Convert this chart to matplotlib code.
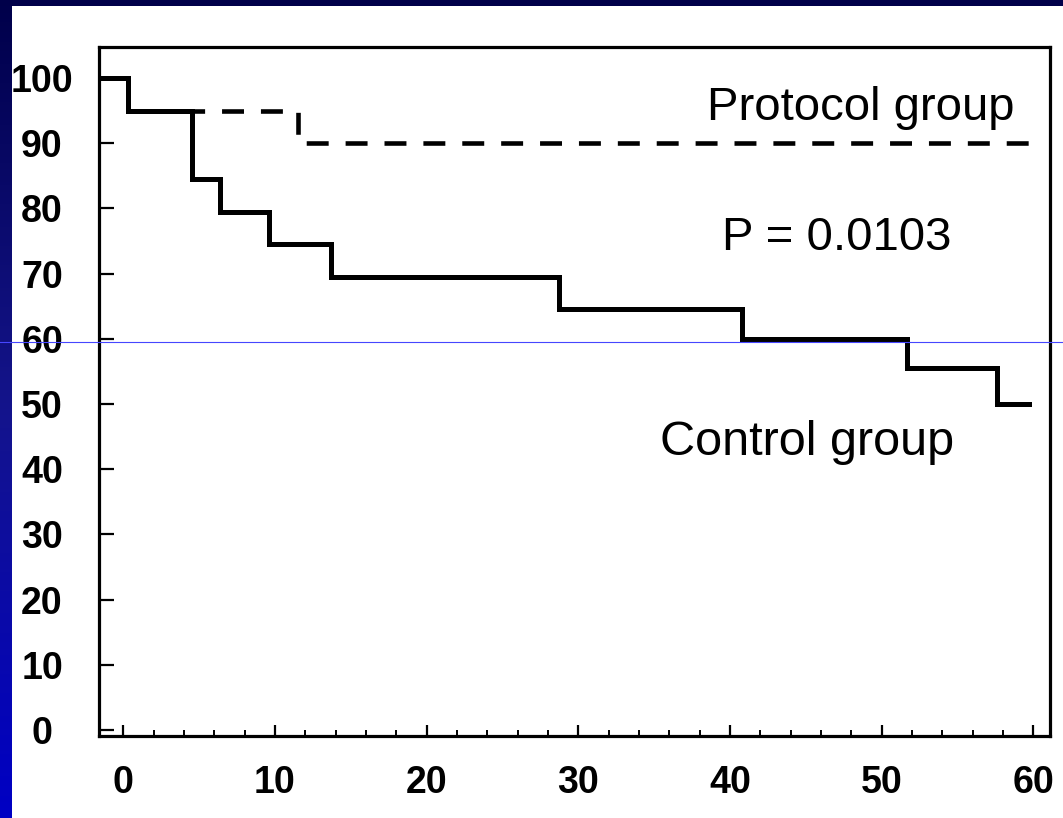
import numpy as np
import matplotlib
matplotlib.use("Agg")
import matplotlib.pyplot as plt
from matplotlib.lines import Line2D
from matplotlib.patches import Rectangle
from matplotlib.colors import LinearSegmentedColormap
from matplotlib.ticker import MultipleLocator

plt.rcParams['font.family'] = ['Liberation Sans', 'DejaVu Sans']
plt.rcParams['lines.scale_dashes'] = False

x_min, x_max = -1.6, 61.1

# Kaplan-Meier survival (%) by month; curves begin at the left frame
control_months = [x_min, 0.3, 4.5, 6.4, 9.6, 13.7, 28.7, 40.8, 51.7, 57.6, 59.7]
control_surv = [100, 95, 84.5, 79.5, 74.5, 69.5, 64.5, 60, 55.5, 50, 50]

protocol_months = [x_min, 0.3, 11.5, 59.8]
protocol_surv = [100, 95, 90, 90]

y_ticks = [0, 10, 20, 30, 40, 50, 60, 70, 80, 90, 100]
x_ticks = [0, 10, 20, 30, 40, 50, 60]

label_protocol = "Protocol group"
label_control = "Control group"
label_p = "P = 0.0103"

W, H = 1063, 818
fig = plt.figure(figsize=(W / 100, H / 100), dpi=100)

# slide background: blue gradient with a white page on top
bg = fig.add_axes([0, 0, 1, 1], zorder=-10)
grad = np.linspace(0, 1, 256).reshape(-1, 1)
cmap = LinearSegmentedColormap.from_list("slide", ["#00004a", "#14148c", "#0000c4"])
bg.imshow(grad, aspect="auto", cmap=cmap, extent=[0, 1, 0, 1], origin="upper")
bg.set_axis_off()
fig.add_artist(Rectangle((12 / W, 0), 1 - 12 / W, 1 - 6 / H,
                         transform=fig.transFigure, facecolor="white",
                         edgecolor="none", zorder=-5))

ax = fig.add_axes([99 / W, (H - 736) / H, (1050 - 99) / W, (736 - 47) / H])
ax.set_facecolor("none")

ax.step(control_months, control_surv, where="post", color="black",
        lw=3.6, solid_joinstyle="miter")
ax.step(protocol_months, protocol_surv, where="post", color="black",
        lw=3.3, linestyle=(0, (15.8, 12.2)), dash_capstyle="butt")

ax.set_xlim(x_min, x_max)
ax.set_ylim(-0.9, 104.75)

for s in ax.spines.values():
    s.set_linewidth(2.3)

ax.set_yticks(y_ticks)
ax.set_yticklabels([str(v) for v in y_ticks])
ax.set_xticks(x_ticks)
ax.set_xticklabels([str(v) for v in x_ticks])
ax.xaxis.set_minor_locator(MultipleLocator(2))

ax.tick_params(axis="y", direction="in", length=11, width=1.6, pad=41,
               labelsize=27)
ax.tick_params(axis="x", which="major", direction="in", length=8, width=1.6,
               pad=21, labelsize=27)
ax.tick_params(axis="x", which="minor", direction="in", length=4.5, width=1.4)
for lab in ax.get_yticklabels():
    lab.set_horizontalalignment("center")
    lab.set_fontweight("bold")
for lab in ax.get_xticklabels():
    lab.set_fontweight("bold")

ax.text(38.5, 93.6, label_protocol, fontsize=34, ha="left", va="baseline")
ax.text(39.5, 73.6, label_p, fontsize=34, ha="left", va="baseline")
ax.text(35.4, 42.2, label_control, fontsize=35, ha="left", va="baseline")

# thin blue rule across the slide
fig.add_artist(Line2D([0, 1], [1 - 342.5 / H] * 2, transform=fig.transFigure,
                      color="#4646ff", lw=0.8, zorder=20))

fig.savefig("out.png", dpi=100)
